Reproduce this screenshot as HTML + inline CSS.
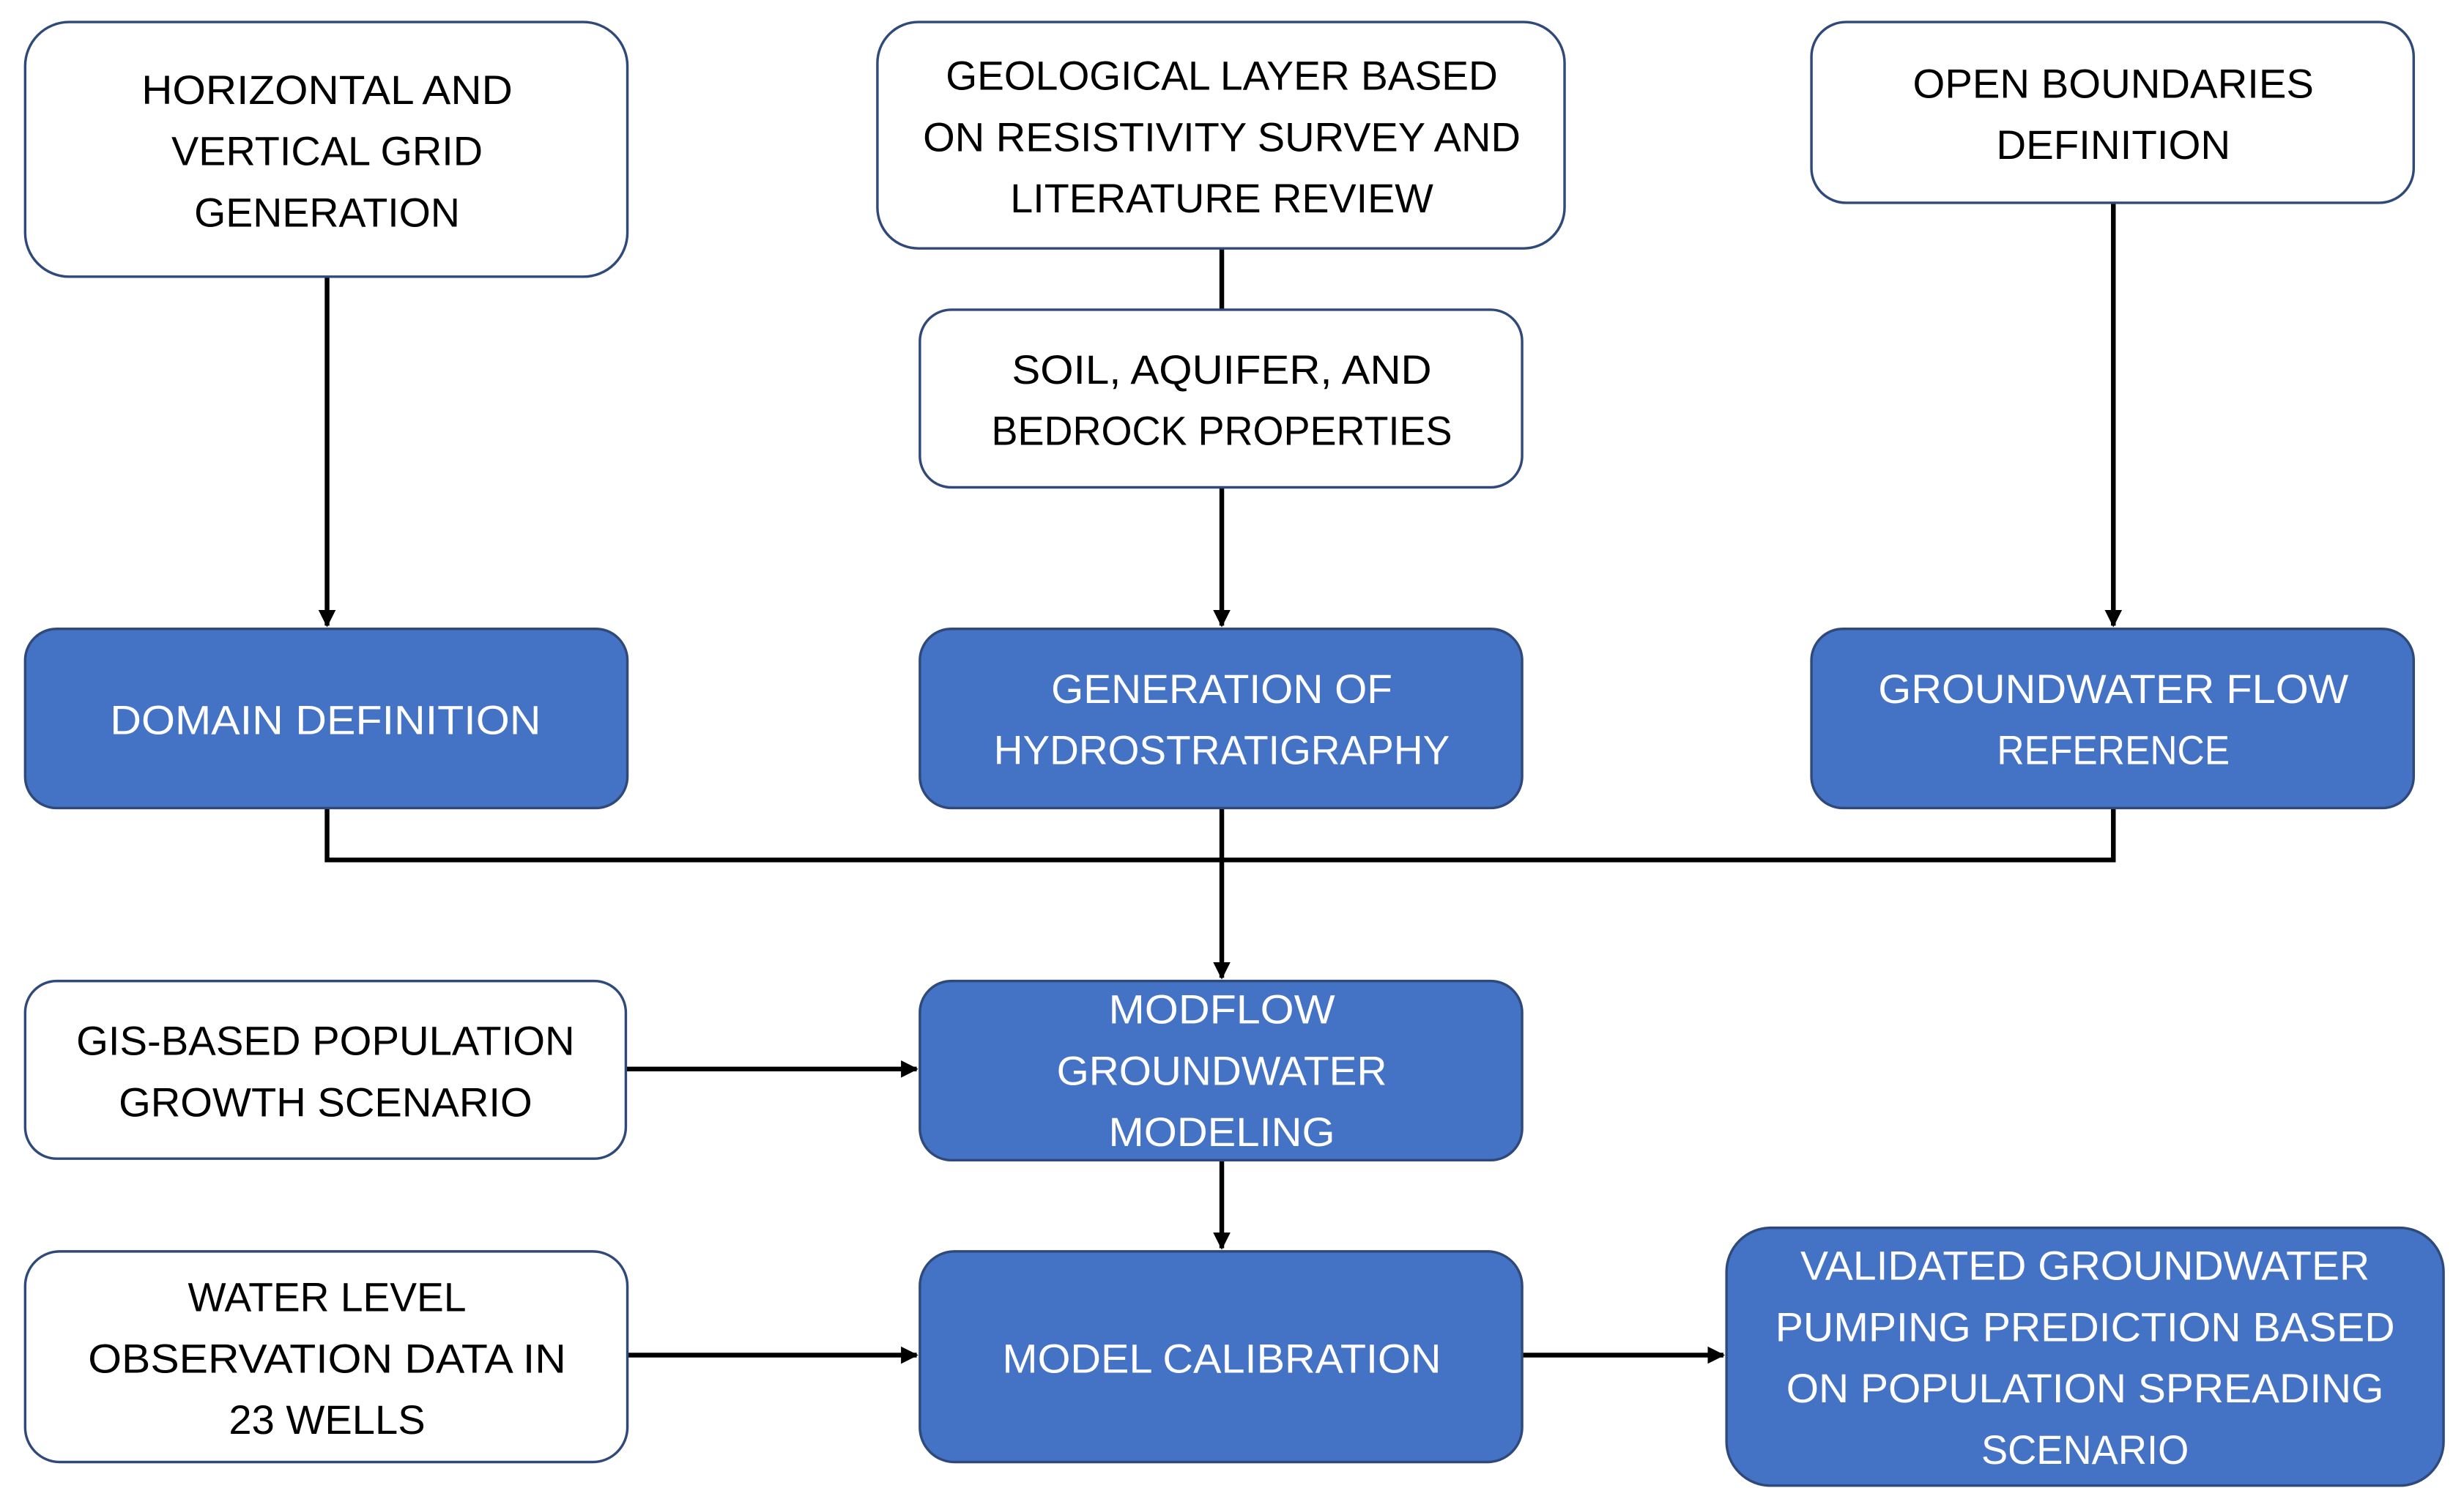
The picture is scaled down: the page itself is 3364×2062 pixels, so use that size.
<!DOCTYPE html>
<html><head><meta charset="utf-8"><style>html,body{margin:0;padding:0;background:#fff}svg{display:block}</style></head>
<body>
<svg width="3364" height="2062" viewBox="0 0 1567 960.5" xmlns="http://www.w3.org/2000/svg">
<defs>
<marker id="a" markerWidth="11" markerHeight="11" refX="10" refY="5.5" orient="auto" markerUnits="userSpaceOnUse">
<path d="M0,0 L11,5.5 L0,11 Z" fill="#000"/>
</marker>
</defs>
<g stroke="#000" stroke-width="3" fill="none">
<line x1="208" y1="176" x2="208" y2="398" marker-end="url(#a)"/>
<line x1="777" y1="158" x2="777" y2="197"/>
<line x1="777" y1="310" x2="777" y2="398" marker-end="url(#a)"/>
<line x1="1344" y1="129" x2="1344" y2="398" marker-end="url(#a)"/>
<polyline points="208,514 208,547 1344,547 1344,514"/>
<line x1="777" y1="514" x2="777" y2="622" marker-end="url(#a)"/>
<line x1="398" y1="680" x2="583" y2="680" marker-end="url(#a)"/>
<line x1="777" y1="738" x2="777" y2="794" marker-end="url(#a)"/>
<line x1="399" y1="862" x2="583" y2="862" marker-end="url(#a)"/>
<line x1="968" y1="862" x2="1096" y2="862" marker-end="url(#a)"/>
</g>
<g stroke="#2F4A7A" stroke-width="1.6">
<rect x="16" y="14" width="383" height="162" rx="28" fill="#fff"/>
<rect x="558" y="14" width="437" height="144" rx="26" fill="#fff"/>
<rect x="1152" y="14" width="383" height="115" rx="22" fill="#fff"/>
<rect x="585" y="197" width="383" height="113" rx="20" fill="#fff"/>
<rect x="16" y="400" width="383" height="114" rx="20" fill="#4472C4"/>
<rect x="585" y="400" width="383" height="114" rx="20" fill="#4472C4"/>
<rect x="1152" y="400" width="383" height="114" rx="20" fill="#4472C4"/>
<rect x="16" y="624" width="382" height="113" rx="20" fill="#fff"/>
<rect x="585" y="624" width="383" height="114" rx="20" fill="#4472C4"/>
<rect x="16" y="796" width="383" height="134" rx="22" fill="#fff"/>
<rect x="585" y="796" width="383" height="134" rx="22" fill="#4472C4"/>
<rect x="1098" y="781" width="456" height="164" rx="28" fill="#4472C4"/>
</g>
<g font-family="Liberation Sans, sans-serif" font-size="26" text-anchor="middle" dominant-baseline="central">
<g fill="#000">
<text x="208" y="57" textLength="236" lengthAdjust="spacingAndGlyphs">HORIZONTAL AND</text>
<text x="208" y="96" textLength="198" lengthAdjust="spacingAndGlyphs">VERTICAL GRID</text>
<text x="208" y="135" textLength="169" lengthAdjust="spacingAndGlyphs">GENERATION</text>
<text x="777" y="48" textLength="351" lengthAdjust="spacingAndGlyphs">GEOLOGICAL LAYER BASED</text>
<text x="777" y="87" textLength="380" lengthAdjust="spacingAndGlyphs">ON RESISTIVITY SURVEY AND</text>
<text x="777" y="126" textLength="269" lengthAdjust="spacingAndGlyphs">LITERATURE REVIEW</text>
<text x="1344" y="53" textLength="255" lengthAdjust="spacingAndGlyphs">OPEN BOUNDARIES</text>
<text x="1344" y="92" textLength="149" lengthAdjust="spacingAndGlyphs">DEFINITION</text>
<text x="777" y="235" textLength="267" lengthAdjust="spacingAndGlyphs">SOIL, AQUIFER, AND</text>
<text x="777" y="274" textLength="293" lengthAdjust="spacingAndGlyphs">BEDROCK PROPERTIES</text>
<text x="207" y="662" textLength="317" lengthAdjust="spacingAndGlyphs">GIS-BASED POPULATION</text>
<text x="207" y="701" textLength="263" lengthAdjust="spacingAndGlyphs">GROWTH SCENARIO</text>
<text x="208" y="825" textLength="177" lengthAdjust="spacingAndGlyphs">WATER LEVEL</text>
<text x="208" y="864" textLength="304" lengthAdjust="spacingAndGlyphs">OBSERVATION  DATA IN</text>
<text x="208" y="903" textLength="125" lengthAdjust="spacingAndGlyphs">23 WELLS</text>
</g>
<g fill="#fff">
<text x="207" y="458" textLength="274" lengthAdjust="spacingAndGlyphs">DOMAIN DEFINITION</text>
<text x="777" y="438" textLength="217" lengthAdjust="spacingAndGlyphs">GENERATION OF</text>
<text x="777" y="477" textLength="290" lengthAdjust="spacingAndGlyphs">HYDROSTRATIGRAPHY</text>
<text x="1344" y="438" textLength="299" lengthAdjust="spacingAndGlyphs">GROUNDWATER FLOW</text>
<text x="1344" y="477" textLength="148" lengthAdjust="spacingAndGlyphs">REFERENCE</text>
<text x="777" y="642" textLength="144" lengthAdjust="spacingAndGlyphs">MODFLOW</text>
<text x="777" y="681" textLength="210" lengthAdjust="spacingAndGlyphs">GROUNDWATER</text>
<text x="777" y="720" textLength="144" lengthAdjust="spacingAndGlyphs">MODELING</text>
<text x="777" y="864" textLength="279" lengthAdjust="spacingAndGlyphs">MODEL CALIBRATION</text>
<text x="1326" y="805" textLength="362" lengthAdjust="spacingAndGlyphs">VALIDATED GROUNDWATER</text>
<text x="1326" y="844" textLength="394" lengthAdjust="spacingAndGlyphs">PUMPING PREDICTION BASED</text>
<text x="1326" y="883" textLength="380" lengthAdjust="spacingAndGlyphs">ON POPULATION SPREADING</text>
<text x="1326" y="922" textLength="132" lengthAdjust="spacingAndGlyphs">SCENARIO</text>
</g>
</g>
</svg>
</body></html>
